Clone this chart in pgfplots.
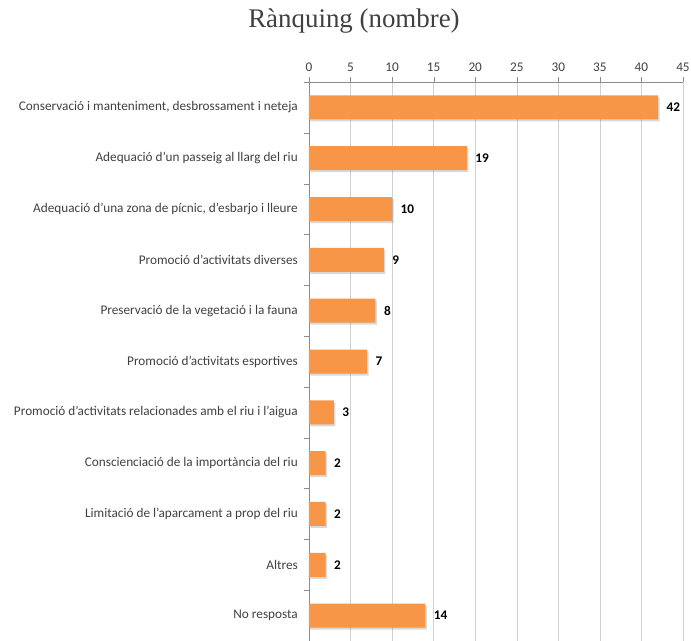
\documentclass[border=0pt]{standalone}
\usepackage{fontspec}
\setmainfont{Carlito}
\newfontfamily\titlefont{Liberation Serif}
\usepackage{pgfplots}
\usepackage{pgfplotstable}
\pgfplotsset{compat=1.18}
\usetikzlibrary{calc,shadows}

\definecolor{barorange}{HTML}{F79646}
\definecolor{txtgray}{HTML}{404040}
\definecolor{gridgray}{HTML}{D0D0D0}
\definecolor{axgray}{HTML}{8C8C8C}

\pgfplotstableread{
pos val
0 42
1 19
2 10
3 9
4 8
5 7
6 3
7 2
8 2
9 2
10 14
}\ranking

\begin{document}
\begin{tikzpicture}
\begin{axis}[
    name=ax,
    scale only axis,
    width=374bp, height=559bp,
    xbar, bar width=24bp,
    xmin=0, xmax=45,
    ymin=-0.5, ymax=10.5,
    y dir=reverse,
    /pgf/number format/assume math mode=true,
    axis x line*=top,
    axis y line*=left,
    axis line style={axgray},
    xtick={0,5,...,45},
    minor xtick={0,5,...,45},
    xticklabel pos=upper,
    xtick pos=upper,
    ytick={0,...,10},
    minor ytick={-0.5,0.5,...,10.5},
    major tick length=0pt,
    minor tick length=5bp,
    tick align=outside,
    minor tick style={axgray},
    xmajorgrids,
    major grid style={gridgray},
    tick label style={font=\fontsize{13.3}{16}\selectfont, text=txtgray, inner sep=0pt},
    xticklabel style={yshift=10bp},
    yticklabel style={xshift=-11bp},
    yticklabels={
        {Conservació i manteniment, desbrossament i neteja},
        {Adequació d’un passeig al llarg del riu},
        {Adequació d’una zona de pícnic, d’esbarjo i lleure},
        {Promoció d’activitats diverses},
        {Preservació de la vegetació i la fauna},
        {Promoció d’activitats esportives},
        {Promoció d’activitats relacionades amb el riu i l’aigua},
        {Conscienciació de la importància del riu},
        {Limitació de l’aparcament a prop del riu},
        {Altres},
        {No resposta}},
    nodes near coords,
    nodes near coords style={font=\bfseries\fontsize{13.3}{16}\selectfont, text=black, xshift=5bp},
]
\addplot[fill=barorange, draw=none,
    drop shadow={shadow xshift=1.5bp, shadow yshift=-2bp, opacity=0.3}]
    table[x=val, y=pos] {\ranking};
\end{axis}
\node[font=\titlefont\fontsize{27}{31}\selectfont, text=txtgray]
    at ($(ax.south west)+(45bp,620bp)$) {Rànquing (nombre)};
\pgfresetboundingbox
\path[use as bounding box] ($(ax.south west)+(-309bp,0)$) rectangle ($(ax.south west)+(382bp,641bp)$);
\end{tikzpicture}
\end{document}
